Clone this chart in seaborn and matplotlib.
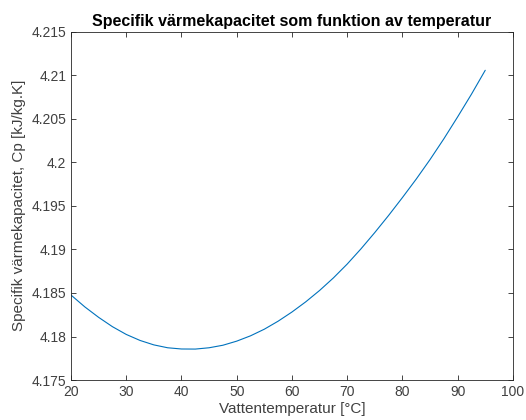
import matplotlib
matplotlib.use("Agg")
import matplotlib.pyplot as plt
import seaborn as sns
from matplotlib.ticker import FuncFormatter

# Water temperature [°C] and specific heat capacity [kJ/kg.K]
temperature = [20, 22.5, 25, 27.5, 30, 32.5, 35, 37.5, 40, 42.5, 45, 47.5,
               50, 52.5, 55, 57.5, 60, 62.5, 65, 67.5, 70, 72.5, 75, 77.5,
               80, 82.5, 85, 87.5, 90, 92.5, 95]
cp_values = [4.18476, 4.18340, 4.18220, 4.18113, 4.18024, 4.17955, 4.17904,
             4.17871, 4.17857, 4.17856, 4.17871, 4.17900, 4.17947, 4.18008,
             4.18084, 4.18176, 4.18281, 4.18398, 4.18528, 4.18672, 4.18831,
             4.19006, 4.19193, 4.19389, 4.19594, 4.19806, 4.20030, 4.20268,
             4.20520, 4.20780, 4.21055]

x_ticks = [20, 30, 40, 50, 60, 70, 80, 90, 100]
y_ticks = [4.175, 4.18, 4.185, 4.19, 4.195, 4.2, 4.205, 4.21, 4.215]

title_text = "Specifik värmekapacitet som funktion av temperatur"
x_label = "Vattentemperatur [°C]"
y_label = "Specifik värmekapacitet, Cp [kJ/kg.K]"

sns.set_style("white")
plt.rcParams["font.family"] = ["Liberation Sans", "DejaVu Sans"]

axis_color = "#262626"
label_color = "#404040"

fig = plt.figure(figsize=(5.26, 4.2), dpi=100)
ax = fig.add_axes([0.135, 0.095, 0.84, 0.830])

sns.lineplot(x=temperature, y=cp_values, ax=ax, color="#0072BD", linewidth=0.8)

ax.set_xlim(20, 100)
ax.set_ylim(4.175, 4.215)
ax.set_xticks(x_ticks)
ax.set_yticks(y_ticks)
ax.yaxis.set_major_formatter(FuncFormatter(lambda v, p: f"{v:g}"))

ax.tick_params(direction="in", length=3.5, width=0.6, colors=axis_color,
               labelcolor=label_color, labelsize=10, top=True, right=True,
               bottom=True, left=True)
for spine in ax.spines.values():
    spine.set_visible(True)
    spine.set_color(axis_color)
    spine.set_linewidth(0.6)

ax.set_title(title_text, fontsize=11.5, fontweight="bold", color="black", pad=4)
ax.set_xlabel(x_label, fontsize=11, color=label_color, labelpad=2)
ax.set_ylabel(y_label, fontsize=11, color=label_color, labelpad=4)

fig.savefig("out.png", dpi=100)
